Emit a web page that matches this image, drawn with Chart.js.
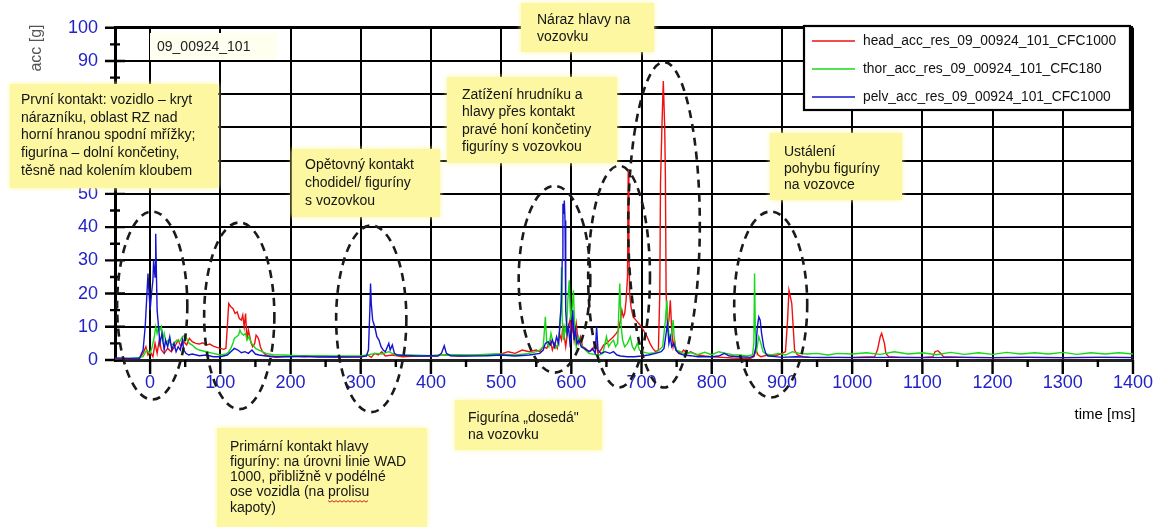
<!DOCTYPE html>
<html>
<head>
<meta charset="utf-8">
<title>acc 09_00924_101</title>
<script src="https://cdn.jsdelivr.net/npm/chart.js@4.4.0/dist/chart.umd.min.js"></script>
<style>
  html, body { margin: 0; padding: 0; background: #fff; }
  #wrap { width: 1165px; height: 527px; position: relative; }
</style>
</head>
<body>
<div id="wrap"><canvas id="accChart" width="1165" height="527"></canvas></div>
<script>
// values: time [ms] and acc [g]
const headTime = [-50, -30, -15, -10, -6, -3, 0, 4, 7, 10, 13, 16, 20, 25, 30, 35, 40, 44, 48, 52, 56, 60, 65, 70, 75, 80, 85, 90, 95, 100, 105, 108, 110, 112, 115, 118, 121, 124, 127, 130, 132, 134, 136, 138, 140, 142, 144, 146, 149, 151, 153, 155, 157, 160, 165, 172, 180, 190, 200, 220, 240, 260, 280, 300, 310, 315, 320, 325, 330, 335, 345, 360, 380, 400, 420, 440, 460, 480, 500, 510, 520, 530, 540, 550, 555, 560, 565, 570, 573, 576, 580, 583, 586, 588, 590, 592, 595, 598, 600, 602, 604, 607, 610, 613, 616, 620, 625, 630, 635, 638, 642, 646, 650, 655, 660, 664, 667, 670, 672, 674, 676, 678, 680, 681, 682, 683, 685, 688, 692, 696, 700, 704, 708, 712, 716, 720, 724, 726, 727, 729, 731, 733, 734, 735, 737, 739, 741, 743, 745, 747, 749, 752, 756, 760, 765, 770, 780, 790, 800, 815, 830, 845, 855, 860, 863, 866, 870, 880, 890, 900, 905, 908, 910, 912, 914, 916, 918, 922, 930, 940, 960, 980, 1000, 1020, 1032, 1036, 1040, 1042, 1044, 1046, 1048, 1052, 1070, 1100, 1115, 1118, 1122, 1126, 1130, 1160, 1200, 1250, 1300, 1350, 1400];
const headAcc = [0.3, 0.4, 0.5, 2, 4, 1.5, 2.5, 1, 5, 2, 6, 3, 2, 3.5, 2.5, 4, 6, 4, 5.5, 4.5, 6.5, 5.5, 5, 4.8, 5.2, 4.5, 4.8, 4.2, 3.8, 3.5, 3.2, 3.5, 10, 17, 16, 15.5, 14, 14.5, 12.5, 12, 13.5, 10, 14, 6, 9, 7, 5, 4, 5, 7.5, 7, 6, 4, 2.5, 1.5, 1, 0.8, 1, 1.2, 1, 1.1, 1, 1, 0.9, 1.5, 0.8, 2, 1.5, 2.5, 1.2, 1.5, 1, 1.2, 1.3, 1.5, 1.2, 1.4, 1.5, 1.8, 2.5, 2, 3, 2.5, 3, 2.5, 4, 3.5, 6, 3, 5, 3.5, 8, 6, 10, 7, 4, 9, 12, 8, 10, 6, 11, 5, 7, 4, 3.5, 2.5, 3, 5, 2, 3, 4.5, 5, 6, 7, 8, 9, 12, 15, 13, 14, 18, 25, 57, 35, 20, 16, 13, 12, 11, 10, 8.5, 7, 5, 3.5, 2.5, 3, 20, 53, 70, 84, 70, 55, 20, 10, 12, 18, 9, 4, 6, 3, 2.5, 2, 3, 2, 2.5, 1.5, 1.2, 1, 0.8, 0.6, 0.5, 0.5, 1, 3, 1.5, 1, 1.5, 1.2, 2, 2.5, 12, 21, 19, 17, 10, 3, 1.5, 1, 0.8, 0.7, 0.8, 0.8, 0.9, 1, 3, 7, 8, 6.5, 5, 2, 1, 0.8, 0.8, 1, 2.5, 2.8, 2, 1, 0.8, 0.7, 0.8, 0.7, 0.8, 0.8];

const thorTime = [-50, -20, -10, -5, 0, 3, 6, 8, 10, 12, 14, 16, 18, 20, 23, 26, 30, 34, 38, 42, 46, 50, 53, 56, 60, 65, 70, 80, 90, 100, 108, 112, 115, 118, 120, 123, 126, 128, 130, 133, 136, 138, 141, 144, 147, 150, 155, 160, 165, 175, 190, 210, 240, 270, 300, 310, 320, 330, 340, 350, 370, 400, 430, 460, 490, 520, 540, 550, 555, 560, 563, 565, 568, 571, 574, 577, 580, 583, 585, 586, 587, 589, 591, 593, 595, 597, 599, 601, 603, 605, 607, 610, 613, 616, 620, 625, 630, 640, 645, 650, 653, 656, 660, 663, 666, 669, 671, 673, 676, 680, 684, 687, 690, 694, 697, 700, 710, 720, 725, 730, 734, 736, 738, 740, 743, 745, 747, 750, 755, 760, 770, 780, 790, 800, 810, 820, 830, 840, 850, 858, 860, 861, 862, 864, 867, 870, 873, 877, 885, 895, 905, 915, 925, 935, 950, 965, 980, 1000, 1020, 1040, 1060, 1080, 1100, 1120, 1140, 1160, 1180, 1200, 1220, 1240, 1260, 1280, 1300, 1320, 1340, 1360, 1380, 1400];
const thorAcc = [0.5, 0.5, 1, 3, 2, 4, 7, 10, 8, 10, 9, 10, 6, 8, 5, 6, 4.5, 5, 6, 5.5, 7, 7.5, 6, 5, 4.5, 3.5, 3, 2.5, 2, 1.5, 1.8, 2.5, 3.5, 5, 6.5, 7, 7.5, 9, 8, 7.5, 8, 6, 7, 5, 4.5, 3.5, 3, 2.5, 2, 1.6, 1.5, 1.3, 1.3, 1.2, 1.3, 1.5, 2, 1.8, 2.5, 1.5, 1.5, 1.3, 1.6, 1.5, 1.8, 1.5, 2, 2.5, 3, 4, 13, 5, 4, 8, 5, 3.5, 4, 8, 15, 28, 12, 6, 10, 8, 18, 24, 12, 15, 21, 8, 4, 7, 5, 4, 3, 2, 1.8, 1.5, 2, 7, 4, 5, 6, 4, 5, 23, 10, 6, 4, 5, 7, 4, 3, 5, 3, 2.5, 2, 2.2, 3, 4, 12, 18, 10, 6, 8, 12, 5, 3, 2.5, 2, 2.2, 1.6, 2.3, 1.6, 2.5, 2, 1.6, 1.5, 1.2, 1.5, 5, 26, 10, 3, 7, 5, 2.5, 1.8, 1.5, 2, 1.5, 2.5, 2, 1.8, 2, 1.5, 2, 1.8, 2.2, 1.7, 2.5, 1.8, 2.2, 1.6, 2.3, 1.7, 2.2, 1.7, 2.3, 1.8, 2.2, 1.8, 2.3, 1.7, 2.2, 1.8, 2.2, 1.8];

const pelvTime = [-50, -30, -15, -10, -7, -5, -3, -2, 0, 2, 4, 5, 6, 7, 8, 9, 10, 12, 14, 17, 20, 22, 25, 28, 31, 34, 37, 40, 43, 46, 48, 51, 55, 60, 70, 80, 90, 100, 110, 115, 120, 125, 130, 135, 140, 145, 150, 155, 165, 180, 200, 220, 240, 260, 280, 300, 308, 311, 313, 314, 315, 317, 320, 323, 326, 329, 332, 335, 338, 340, 342, 345, 348, 352, 360, 380, 400, 410, 415, 419, 422, 428, 450, 480, 500, 520, 540, 555, 560, 563, 567, 570, 573, 576, 579, 582, 584, 586, 587, 588, 589, 590, 591, 592, 594, 596, 598, 600, 602, 604, 606, 608, 611, 614, 618, 622, 626, 630, 634, 636, 638, 642, 648, 655, 660, 665, 670, 680, 690, 700, 710, 720, 728, 732, 735, 737, 739, 741, 743, 746, 749, 753, 760, 770, 780, 790, 800, 810, 818, 825, 840, 855, 860, 863, 865, 867, 869, 871, 874, 877, 880, 890, 900, 920, 940, 970, 1000, 1050, 1100, 1150, 1200, 1250, 1300, 1350, 1400];
const pelvAcc = [0.6, 0.5, 0.6, 3, 10, 18, 26, 22, 15, 20, 24, 30, 28, 25, 38, 26, 15, 10, 5, 8, 3, 6, 4, 7, 3, 5, 2.5, 4, 3, 6, 3, 2, 1.5, 1.8, 1.3, 1.5, 1, 1, 1.5, 2.5, 3.5, 3, 2.2, 2.5, 2, 3, 1.8, 1.5, 1.2, 1, 1, 1.1, 0.9, 1, 0.9, 1, 1.2, 3, 15, 23, 17, 12, 10, 7, 6, 4, 3, 2.5, 4, 5, 3, 4.5, 2, 1.5, 1.4, 1.2, 1.3, 1.2, 2, 4.3, 2, 1.3, 1.2, 1.3, 1.5, 1.2, 1.5, 2, 3, 5, 5.5, 4.5, 6, 4, 7, 5, 12, 18, 30, 47, 44, 48, 42, 15, 8, 10, 5, 7, 15, 6, 9, 5, 6, 4, 3.5, 3, 2.5, 3.5, 2, 10, 3, 2, 2.5, 2, 2.5, 1.5, 1.2, 1, 1, 1.2, 1.5, 2, 2.5, 3.5, 8, 11, 5, 7, 4, 5, 3, 2, 1.5, 1.3, 1, 1, 1, 1.2, 2, 1.2, 1, 0.8, 1.2, 4, 10, 13, 12, 8, 4, 2, 1.2, 1, 0.8, 1, 0.8, 0.8, 0.7, 0.8, 0.7, 0.8, 0.7, 0.8, 0.7, 0.8, 0.7];

const seriesNames = ["head_acc_res_09_00924_101_CFC1000", "thor_acc_res_09_00924_101_CFC180", "pelv_acc_res_09_00924_101_CFC1000"];
const seriesColors = ["#f01010", "#18d818", "#1414d0"];

const xTickValues = [0, 100, 200, 300, 400, 500, 600, 700, 800, 900, 1000, 1100, 1200, 1300, 1400];

// dashed ellipses: centre time, centre acc, half width [ms], half height [g]
const ellipseTime = [3, 127, 315, 576, 668, 732, 884];
const ellipseAcc = [16.4, 13.3, 12.4, 24.3, 25.1, 40.7, 16.7];
const ellipseHalfTime = [50, 50, 50, 51, 44, 51, 52];
const ellipseHalfAcc = [28.3, 28.1, 28.1, 28.1, 33.4, 49, 28];

const notes = [
  { x: 10, y: 84, w: 208, h: 104, tx: 21, ty: 100, lh: 17.7, lines: ["První kontakt: vozidlo – kryt", "nárazníku, oblast RZ nad", "horní hranou spodní mřížky;", "figurína – dolní končetiny,", "těsně nad kolením kloubem"] },
  { x: 292, y: 149, w: 148, h: 68, tx: 305, ty: 165, lh: 18, lines: ["Opětovný kontakt", "chodidel/ figuríny", "s vozovkou"] },
  { x: 447, y: 77, w: 170, h: 86, tx: 462, ty: 95, lh: 17.4, lines: ["Zatížení hrudníku a", "hlavy přes kontakt", "pravé honí končetiny", "figuríny s vozovkou"] },
  { x: 521, y: 3, w: 133, h: 49, tx: 537, ty: 20, lh: 17, lines: ["Náraz hlavy na", "vozovku"] },
  { x: 770, y: 133, w: 132, h: 67, tx: 784, ty: 152, lh: 16.7, lines: ["Ustálení", "pohybu figuríny", "na vozovce"] },
  { x: 455, y: 400, w: 147, h: 50, tx: 468, ty: 418, lh: 17, lines: ["Figurína „dosedá\"", "na vozovku"] },
  { x: 217, y: 428, w: 210, h: 99, tx: 230, ty: 447, lh: 15.2, lines: ["Primární kontakt hlavy", "figuríny: na úrovni linie WAD", "1000, přibližně v podélné", "ose vozidla (na prolisu", "kapoty)"] }
];

const FONT = "'Liberation Sans', Arial, sans-serif";

const ellipsePlugin = {
  id: "ellipses",
  afterDatasetsDraw(chart) {
    const { ctx, scales: { x, y } } = chart;
    ctx.save();
    ctx.setLineDash([8, 6]);
    ctx.lineWidth = 2.6;
    ctx.strokeStyle = "#1a1a1a";
    ellipseTime.forEach((t, i) => {
      const cx = x.getPixelForValue(t);
      const cy = y.getPixelForValue(ellipseAcc[i]);
      const rx = x.getPixelForValue(t + ellipseHalfTime[i]) - cx;
      const ry = cy - y.getPixelForValue(ellipseAcc[i] + ellipseHalfAcc[i]);
      ctx.beginPath();
      ctx.ellipse(cx, cy, rx, ry, 0, 0, Math.PI * 2);
      ctx.stroke();
    });
    ctx.restore();
  }
};

const tickPlugin = {
  id: "crossTicks",
  beforeDatasetsDraw(chart) {
    const { ctx, chartArea: a, scales: { x, y } } = chart;
    ctx.save();
    ctx.strokeStyle = "#000";
    ctx.lineWidth = 2.4;
    ctx.beginPath();
    for (let v = 0; v <= 100; v += 5) {
      const py = y.getPixelForValue(v);
      const half = v % 10 === 0 ? 10 : 5;
      ctx.moveTo(a.left - half, py);
      ctx.lineTo(a.left + half, py);
    }
    for (let v = 0; v <= 1400; v += 50) {
      const px = x.getPixelForValue(v);
      ctx.moveTo(px, a.bottom);
      ctx.lineTo(px, a.bottom + (v % 100 === 0 ? 14 : 7));
    }
    ctx.stroke();
    ctx.restore();
  }
};

const overlayPlugin = {
  id: "overlay",
  afterDraw(chart) {
    const ctx = chart.ctx;
    ctx.save();

    // axis titles
    ctx.fillStyle = "#555";
    ctx.font = "16px " + FONT;
    ctx.textAlign = "center";
    ctx.textBaseline = "middle";
    ctx.save();
    ctx.translate(37, 48);
    ctx.rotate(-Math.PI / 2);
    ctx.fillText("acc [g]", 0, 0);
    ctx.restore();
    ctx.fillStyle = "#000";
    ctx.font = "15px " + FONT;
    ctx.fillText("time [ms]", 1105, 415);

    // test id label
    ctx.fillStyle = "#fffff0";
    ctx.fillRect(150, 33, 127, 27);
    ctx.fillStyle = "#222";
    ctx.font = "14px " + FONT;
    ctx.textAlign = "left";
    ctx.fillText("09_00924_101", 157, 47);

    // legend
    const lx = 804, ly = 26, lw = 326, lh = 84;
    ctx.fillStyle = "#fff";
    ctx.fillRect(lx, ly, lw, lh);
    ctx.lineWidth = 2.2;
    ctx.strokeStyle = "#000";
    ctx.strokeRect(lx, ly, lw, lh);
    ctx.font = "13.8px " + FONT;
    seriesNames.forEach((name, i) => {
      const ry = ly + 15 + i * 28;
      ctx.strokeStyle = seriesColors[i];
      ctx.lineWidth = 1.6;
      ctx.beginPath();
      ctx.moveTo(lx + 8, ry);
      ctx.lineTo(lx + 51, ry);
      ctx.stroke();
      ctx.fillStyle = "#111";
      ctx.fillText(name, lx + 59, ry);
    });

    // yellow callouts
    notes.forEach(n => {
      ctx.save();
      ctx.fillStyle = "#fcf7a0";
      ctx.shadowColor = "#fcf7a0";
      ctx.shadowBlur = 5;
      ctx.fillRect(n.x, n.y, n.w, n.h);
      ctx.restore();
      ctx.fillStyle = "#151515";
      ctx.font = "14px " + FONT;
      ctx.textAlign = "left";
      ctx.textBaseline = "middle";
      n.lines.forEach((line, k) => ctx.fillText(line, n.tx, n.ty + k * n.lh));
    });

    // spell-check squiggle under "prolisu"
    const pn = notes[6];
    ctx.font = "14px " + FONT;
    const pre = ctx.measureText("ose vozidla (na ").width;
    const wlen = ctx.measureText("prolisu").width;
    const sy = pn.ty + 3 * pn.lh + 8;
    ctx.strokeStyle = "#d02020";
    ctx.lineWidth = 1;
    ctx.beginPath();
    for (let i = 0; i <= wlen; i += 2) {
      const px = pn.tx + pre + i;
      const py = sy + ((i / 2) % 2 === 0 ? 0 : 1.5);
      if (i === 0) ctx.moveTo(px, py); else ctx.lineTo(px, py);
    }
    ctx.stroke();

    ctx.restore();
  }
};

const toPoints = (ts, vs) => ts.map((t, i) => ({ x: t, y: vs[i] }));

new Chart(document.getElementById("accChart"), {
  type: "line",
  data: {
    datasets: [
      { label: seriesNames[2], data: toPoints(pelvTime, pelvAcc), borderColor: seriesColors[2] },
      { label: seriesNames[1], data: toPoints(thorTime, thorAcc), borderColor: seriesColors[1] },
      { label: seriesNames[0], data: toPoints(headTime, headAcc), borderColor: seriesColors[0] }
    ]
  },
  options: {
    responsive: false,
    animation: false,
    devicePixelRatio: 1,
    datasets: { line: { borderWidth: 1.4, pointRadius: 0, tension: 0, fill: false } },
    layout: { padding: { top: 22, right: 28, left: 0, bottom: 0 } },
    plugins: { legend: { display: false }, tooltip: { enabled: false } },
    scales: {
      x: {
        type: "linear",
        min: -50,
        max: 1400,
        afterBuildTicks: s => { s.ticks = xTickValues.map(v => ({ value: v })); },
        afterFit: s => { s.height = 167; },
        ticks: { color: "#2222c8", font: { family: FONT, size: 18 }, padding: 12, maxRotation: 0, autoSkip: false, callback: v => String(v) },
        grid: { color: "#000", lineWidth: c => (c.tick && c.tick.value === 1400 ? 3 : 2), drawTicks: false },
        border: { display: true, color: "#222", width: 3 }
      },
      y: {
        min: 0,
        max: 100,
        ticks: { stepSize: 10, color: "#2222c8", font: { family: FONT, size: 18 }, padding: 17, callback: v => String(v) },
        afterFit: s => { s.width = 115; },
        grid: { color: "#000", lineWidth: c => (c.tick && (c.tick.value === 100 || c.tick.value === 0) ? 3 : 2), drawTicks: false },
        border: { display: true, color: "#000", width: 3 }
      }
    }
  },
  plugins: [tickPlugin, ellipsePlugin, overlayPlugin]
});
</script>
</body>
</html>
